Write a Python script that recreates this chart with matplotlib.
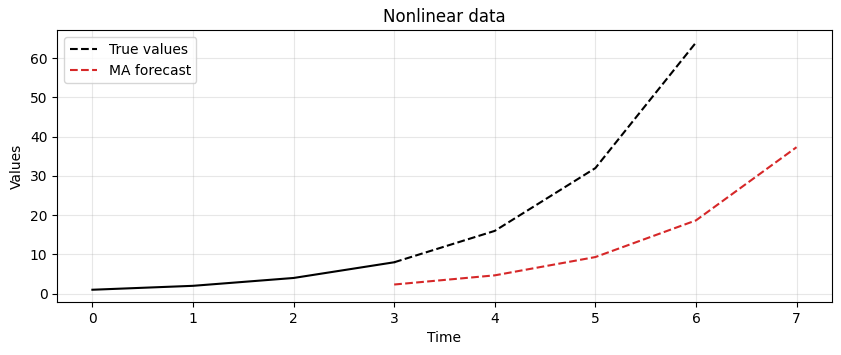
import matplotlib
matplotlib.use("Agg")
import matplotlib.pyplot as plt

# observed series
time_obs = [0, 1, 2, 3]
values_obs = [1, 2, 4, 8]

# true values continuing after t=3
time_true = [3, 4, 5, 6]
values_true = [8, 16, 32, 64]

# moving-average forecast
time_ma = [3, 4, 5, 6, 7]
values_ma = [2.33, 4.67, 9.33, 18.67, 37.33]

fig, ax = plt.subplots(figsize=(8.41, 3.55), dpi=100)
fig.subplots_adjust(left=0.068, right=0.989, top=0.915, bottom=0.149)

ax.plot(time_obs, values_obs, color="black")
ax.plot(time_true, values_true, color="black", linestyle="--", label="True values")
ax.plot(time_ma, values_ma, color="tab:red", linestyle="--", label="MA forecast")

ax.set_title("Nonlinear data")
ax.set_xlabel("Time")
ax.set_ylabel("Values")
ax.grid(alpha=0.3)
ax.legend(loc="upper left")

fig.savefig("out.png", dpi=100)
